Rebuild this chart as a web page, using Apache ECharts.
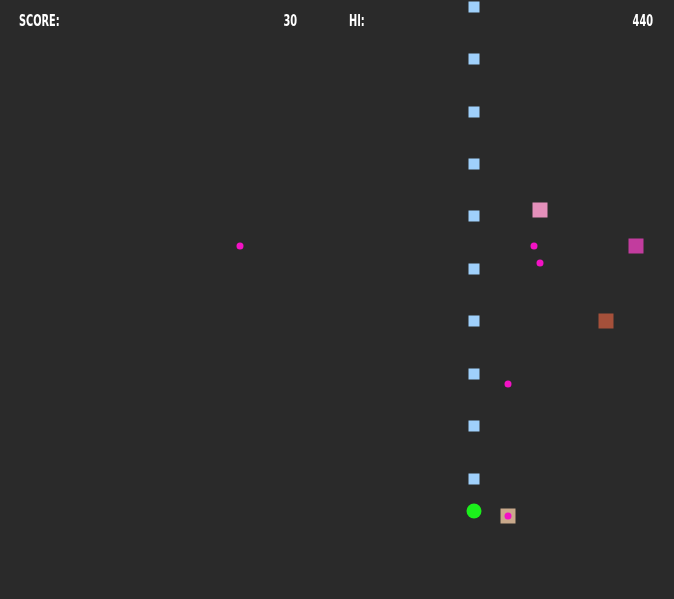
<!DOCTYPE html>
<html><head><meta charset="utf-8">
<script src="https://cdn.jsdelivr.net/npm/echarts@6/dist/echarts.min.js"></script>
<style>html,body{margin:0;padding:0;background:#2a2a2a;}#c{width:674px;height:599px;}</style>
</head><body><div id="c"></div>
<script>
// Data (pixel-space positions of game entities)
var wallX = [474,474,474,474,474,474,474,474,474,474];
var wallY = [7,59,112,164,216,269,321,374,426,479];
var blockPts = [[540,210],[636,246],[606,321],[508,516]];
var blockColors = ['#e48fba','#c23c9e','#a5503a','#c9a98b'];
var dotPts = [[240,246],[534,246],[540,263],[508,384],[508,516]];
var playerPt = [[474,511]];
var scoreLabel = 'SCORE:';
var scoreValue = '30';
var hiLabel = 'HI:';
var hiValue = '440';

var chart = echarts.init(document.getElementById('c'));
var font = 'bold 16px "DejaVu Sans Condensed", "DejaVu Sans", sans-serif';
function txt(t, x, align) {
  return {type: 'text', x: x, y: 22, scaleX: 0.68,
    style: {text: t, fill: '#ffffff', font: font, textAlign: align, textVerticalAlign: 'middle'}};
}
chart.setOption({
  backgroundColor: '#2a2a2a',
  animation: false,
  grid: {left: 0, right: 0, top: 0, bottom: 0},
  xAxis: {type: 'value', min: 0, max: 674, show: false},
  yAxis: {type: 'value', min: 0, max: 599, inverse: true, show: false},
  series: [
    {type: 'scatter', symbol: 'rect', symbolSize: 11, itemStyle: {color: '#9fd0fb', opacity: 1},
     data: wallX.map(function(x, i){ return [x, wallY[i]]; })},
    {type: 'scatter', symbol: 'rect', symbolSize: 15,
     data: blockPts.map(function(p, i){ return {value: p, itemStyle: {color: blockColors[i], opacity: 1}}; })},
    {type: 'scatter', symbol: 'circle', symbolSize: 15, itemStyle: {color: '#1bef1b', opacity: 1}, data: playerPt},
    {type: 'scatter', symbol: 'circle', symbolSize: 7, itemStyle: {color: '#f212c4', opacity: 1}, data: dotPts}
  ],
  graphic: [
    txt(scoreLabel, 19, 'left'),
    txt(scoreValue, 297, 'right'),
    txt(hiLabel, 349, 'left'),
    txt(hiValue, 653, 'right')
  ]
});
</script></body></html>
